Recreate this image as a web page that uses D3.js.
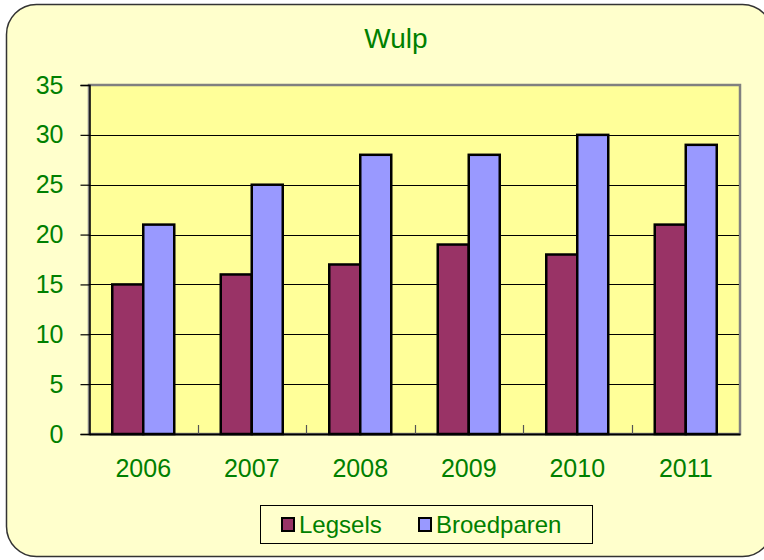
<!DOCTYPE html>
<html>
<head>
<meta charset="utf-8">
<script src="https://cdn.jsdelivr.net/npm/d3@7"></script>
<style>
  body { margin: 0; background: #ffffff; }
  text { font-family: "Liberation Sans", Arial, sans-serif; }
</style>
</head>
<body>
<div id="chart"></div>
<script>
  // Data
  const years = ["2006", "2007", "2008", "2009", "2010", "2011"];
  const legsels = [15, 16, 17, 19, 18, 21];
  const broedparen = [21, 25, 28, 28, 30, 29];
  const seriesNames = ["Legsels", "Broedparen"];
  const yTicks = [0, 5, 10, 15, 20, 25, 30, 35];

  const width = 764;
  const height = 560;
  const plot = { left: 89, right: 740, top: 85, bottom: 434 };
  const green = "#008000";
  const colors = { Legsels: "#993366", Broedparen: "#9999FF" };

  const rows = years.map((y, i) => ({ year: y, Legsels: legsels[i], Broedparen: broedparen[i] }));

  const svg = d3.select("#chart")
    .append("svg")
    .attr("width", width)
    .attr("height", height);

  // Chart area with rounded corners
  svg.append("rect")
    .attr("x", 6.5)
    .attr("y", 4.5)
    .attr("width", 766)
    .attr("height", 552)
    .attr("rx", 30)
    .attr("fill", "#FFFFCC")
    .attr("stroke", "#333")
    .attr("stroke-width", 1.5);

  // Title
  svg.append("text")
    .attr("x", 396)
    .attr("y", 48)
    .attr("text-anchor", "middle")
    .attr("font-size", "28px")
    .attr("fill", green)
    .text("Wulp");

  const x = d3.scaleBand()
    .domain(years)
    .range([plot.left, plot.right]);

  const xInner = d3.scaleBand()
    .domain(seriesNames)
    .range([0, x.bandwidth()])
    .paddingOuter(0.75)
    .paddingInner(0);

  const y = d3.scaleLinear()
    .domain([0, 35])
    .range([plot.bottom, plot.top]);

  // Plot area
  svg.append("rect")
    .attr("x", plot.left)
    .attr("y", plot.top)
    .attr("width", plot.right - plot.left)
    .attr("height", plot.bottom - plot.top)
    .attr("fill", "#FFFF99")
    .attr("stroke", "#808080")
    .attr("stroke-width", 2.5);

  // Gridlines
  svg.append("g")
    .selectAll("line")
    .data(yTicks.filter(d => d > 0 && d < 35))
    .enter()
    .append("line")
    .attr("x1", plot.left)
    .attr("x2", plot.right - 1)
    .attr("y1", d => Math.round(y(d)) + 0.5)
    .attr("y2", d => Math.round(y(d)) + 0.5)
    .attr("stroke", "#000")
    .attr("stroke-width", 1);

  // Y axis
  svg.append("g")
    .attr("transform", `translate(${plot.left + 0.5},0)`)
    .call(d3.axisLeft(y).tickValues(yTicks).tickSize(9).tickPadding(17))
    .call(g => g.select(".domain").attr("stroke", "#000").attr("stroke-width", 1.5))
    .call(g => g.selectAll(".tick line").attr("stroke", "#000").attr("stroke-width", 1.2))
    .call(g => g.selectAll(".tick text")
      .attr("fill", green)
      .attr("font-size", "25px")
      .attr("font-family", "Liberation Sans, Arial, sans-serif"));

  // Bars
  const groups = svg.append("g")
    .selectAll("g")
    .data(rows)
    .enter()
    .append("g")
    .attr("transform", d => `translate(${x(d.year)},0)`);

  groups.selectAll("rect")
    .data(d => seriesNames.map(k => ({ key: k, value: d[k] })))
    .enter()
    .append("rect")
    .attr("x", d => xInner(d.key))
    .attr("y", d => y(d.value))
    .attr("width", xInner.bandwidth())
    .attr("height", d => y(0) - y(d.value))
    .attr("fill", d => colors[d.key])
    .attr("stroke", "#000")
    .attr("stroke-width", 2.5);

  // X axis (ticks point up into the plot, between categories)
  svg.append("g")
    .attr("transform", `translate(0,${plot.bottom})`)
    .call(d3.axisBottom(x).tickSize(0).tickPadding(25))
    .call(g => g.select(".domain").attr("stroke", "#000").attr("stroke-width", 2))
    .call(g => g.selectAll(".tick text")
      .attr("fill", green)
      .attr("font-size", "25px")
      .attr("font-family", "Liberation Sans, Arial, sans-serif"));

  svg.append("g")
    .selectAll("line")
    .data(years.slice(1))
    .enter()
    .append("line")
    .attr("x1", d => Math.round(x(d)) + 0.5)
    .attr("x2", d => Math.round(x(d)) + 0.5)
    .attr("y1", plot.bottom)
    .attr("y2", plot.bottom - 9)
    .attr("stroke", "#555")
    .attr("stroke-width", 1.2);

  // Legend
  const legend = svg.append("g");
  legend.append("rect")
    .attr("x", 260.5)
    .attr("y", 505.5)
    .attr("width", 332)
    .attr("height", 38)
    .attr("fill", "#FFFFCC")
    .attr("stroke", "#000")
    .attr("stroke-width", 1);

  const legendX = [281, 418];
  seriesNames.forEach((name, i) => {
    legend.append("rect")
      .attr("x", legendX[i] + 1)
      .attr("y", 518)
      .attr("width", 12)
      .attr("height", 13)
      .attr("fill", colors[name])
      .attr("stroke", "#000")
      .attr("stroke-width", 2);
    legend.append("text")
      .attr("x", legendX[i] + 18)
      .attr("y", 533)
      .attr("font-size", "24px")
      .attr("fill", green)
      .text(name);
  });
</script>
</body>
</html>
